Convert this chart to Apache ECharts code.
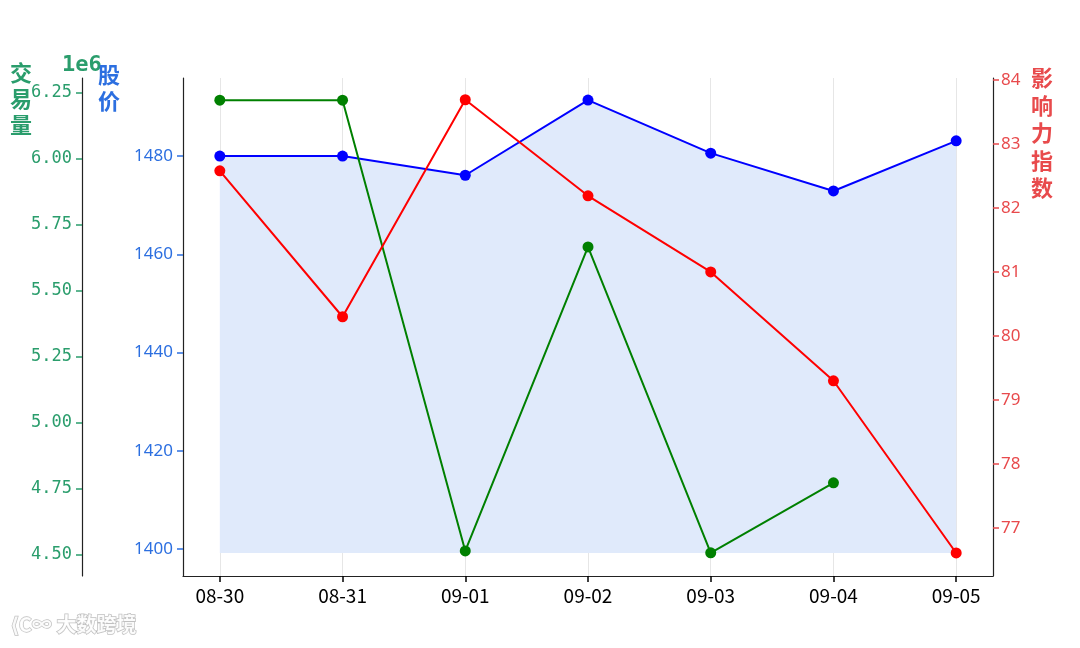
<!DOCTYPE html>
<html><head><meta charset="utf-8">
<script src="https://cdn.jsdelivr.net/npm/echarts@6/dist/echarts.min.js"></script>
<style>html,body{margin:0;padding:0;background:#fff}#c{width:1080px;height:648px}</style>
</head><body><div id="c"></div>
<script>
const categories = ['08-30','08-31','09-01','09-02','09-03','09-04','09-05'];
const stockPrice = [1480.0, 1480.0, 1476.1, 1491.4, 1480.6, 1472.9, 1483.1];
const volume = [6223000, 6223000, 4515000, 5667000, 4508000, 4773000, null];
const influence = [82.58, 80.30, 83.69, 82.19, 81.00, 79.30, 76.61];
const stockTicks = [1400, 1420, 1440, 1460, 1480];
const volumeTicks = [4500000, 4750000, 5000000, 5250000, 5500000, 5750000, 6000000, 6250000];
const influenceTicks = [77, 78, 79, 80, 81, 82, 83, 84];
const stockFillBase = 1399.2;

const GREEN = '#2a9d6c', BLUE = '#2c6fe0', RED = '#e84a4c';
const pairs = arr => arr.map((v, i) => [i, v]);
const idx = categories.map((c, i) => i);

const chart = echarts.init(document.getElementById('c'));
chart.setOption({
  animation: false,
  grid: {left: 183, right: 87, top: 78, bottom: 72, containLabel: false},
  xAxis: {
    type: 'value', min: -0.3, max: 6.3,
    axisLine: {show: true, onZero: false, lineStyle: {color: '#222', width: 1.2}},
    axisTick: {show: true, customValues: idx, length: 6, lineStyle: {color: '#000', width: 1.5}},
    axisLabel: {customValues: idx, formatter: v => categories[Math.round(v)], color: '#000',
      fontSize: 19, fontFamily: 'Noto Sans CJK SC', margin: 10},
    splitLine: {show: true, customValues: idx, lineStyle: {color: '#e6e6e6', width: 1}}
  },
  yAxis: [
    {type: 'value', position: 'left', min: 1394.5, max: 1495.9,
      axisLine: {show: true, onZero: false, lineStyle: {color: '#222', width: 1.2}},
      axisTick: {show: true, customValues: stockTicks, length: 6, lineStyle: {color: BLUE, width: 1.5}},
      axisLabel: {customValues: stockTicks, color: BLUE, fontSize: 17, fontFamily: 'Noto Sans', margin: 10,
        formatter: v => String(v)},
      splitLine: {show: false}},
    {type: 'value', position: 'left', offset: 101, min: 4420000, max: 6307000,
      axisLine: {show: true, onZero: false, lineStyle: {color: '#222', width: 1.2}},
      axisTick: {show: true, customValues: volumeTicks, length: 6, lineStyle: {color: GREEN, width: 1.5}},
      axisLabel: {customValues: volumeTicks, color: GREEN, fontSize: 17, fontFamily: 'DejaVu Sans Mono', margin: 10,
        formatter: v => (v / 1e6).toFixed(2)},
      splitLine: {show: false}},
    {type: 'value', position: 'right', min: 76.25, max: 84.03,
      axisLine: {show: true, onZero: false, lineStyle: {color: '#222', width: 1.2}},
      axisTick: {show: true, customValues: influenceTicks, length: 6, lineStyle: {color: RED, width: 1.5}},
      axisLabel: {customValues: influenceTicks, color: RED, fontSize: 17, fontFamily: 'Noto Sans', margin: 8,
        formatter: v => String(v)},
      splitLine: {show: false}}
  ],
  series: [
    {type: 'line', name: '股价', yAxisIndex: 0, data: pairs(stockPrice),
      symbol: 'circle', symbolSize: 11,
      lineStyle: {color: '#0000ff', width: 2},
      itemStyle: {color: '#0000ff'},
      areaStyle: {origin: stockFillBase, color: 'rgb(224,234,251)', opacity: 1}, z: 2},
    {type: 'line', name: '交易量', yAxisIndex: 1, data: pairs(volume),
      symbol: 'circle', symbolSize: 11, connectNulls: false,
      lineStyle: {color: '#008000', width: 2}, itemStyle: {color: '#008000'}, z: 3},
    {type: 'line', name: '影响力指数', yAxisIndex: 2, data: pairs(influence),
      symbol: 'circle', symbolSize: 11,
      lineStyle: {color: '#ff0000', width: 2}, itemStyle: {color: '#ff0000'}, z: 4}
  ],
  graphic: [
    {type: 'text', left: 10, top: 60, style: {text: '交\n易\n量', fill: GREEN, font: 'bold 22px "Noto Sans CJK SC"', lineHeight: 26}},
    {type: 'text', left: 62, top: 54, style: {text: '1e6', fill: GREEN, font: 'bold 22px "DejaVu Sans Mono"'}},
    {type: 'text', left: 98, top: 62, style: {text: '股\n价', fill: BLUE, font: 'bold 22px "Noto Sans CJK SC"', lineHeight: 26}},
    {type: 'text', left: 1031, top: 64, style: {text: '影\n响\n力\n指\n数', fill: RED, font: 'bold 22px "Noto Sans CJK SC"', lineHeight: 27.5}},
    {type: 'text', left: 10, top: 614, style: {text: '⟨C∞ 大数跨境', fill: 'rgba(255,255,255,0.9)', stroke: 'rgba(150,150,150,0.6)', lineWidth: 1.5, font: 'bold 20px "Noto Sans CJK SC"'}}
  ]
});
</script></body></html>
